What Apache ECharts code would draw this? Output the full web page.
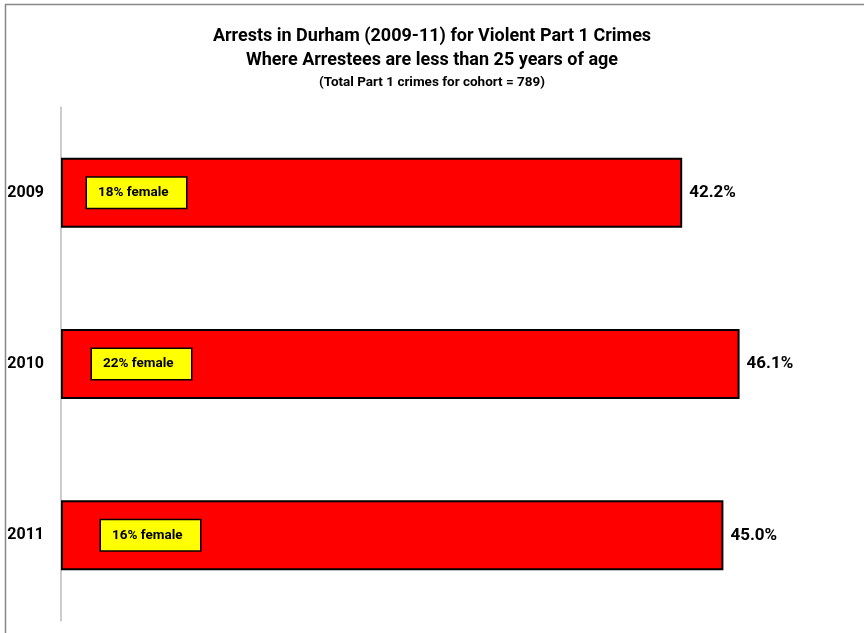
<!DOCTYPE html>
<html>
<head>
<meta charset="utf-8">
<script src="https://cdn.jsdelivr.net/npm/echarts@6/dist/echarts.min.js"></script>
<style>
  html, body { margin: 0; padding: 0; background: #fff; }
  #chart { width: 864px; height: 633px; }
</style>
</head>
<body>
<div id="chart"></div>
<script>
// Arrest share per year (percent) and the female share noted inside each bar
const years = ['2009', '2010', '2011'];
const arrestShare = [42.2, 46.1, 45.0];
const femaleShare = [18, 22, 16];
const femaleLabelInset = [26, 31, 40];

const FONT = 'Roboto, "Open Sans", sans-serif';

const chart = echarts.init(document.getElementById('chart'));

const barData = arrestShare.map(v => ({ value: v }));
const femaleData = arrestShare.map((v, i) => ({
  value: v,
  label: {
    show: true,
    position: 'insideLeft',
    distance: femaleLabelInset[i],
    formatter: femaleShare[i] + '% female'
  }
}));

chart.setOption({
  animation: false,
  backgroundColor: '#fff',
  title: {
    text: 'Arrests in Durham (2009-11) for Violent Part 1 Crimes\nWhere Arrestees are less than 25 years of age',
    subtext: '(Total Part 1 crimes for cohort = 789)',
    left: 'center',
    top: 19,
    itemGap: 4,
    textStyle: { fontFamily: FONT, fontWeight: 'bold', fontSize: 18, lineHeight: 24, color: '#000' },
    subtextStyle: { fontFamily: FONT, fontWeight: 'bold', fontSize: 13.5, color: '#000' }
  },
  graphic: [{
    type: 'rect',
    shape: { x: 5.5, y: 4.5, width: 900, height: 700 },
    style: { fill: null, stroke: '#888', lineWidth: 1.5 },
    silent: true
  }],
  grid: { left: 61, right: 67, top: 107, bottom: 12, containLabel: false },
  xAxis: {
    type: 'value',
    min: 0,
    max: 50,
    show: false
  },
  yAxis: {
    type: 'category',
    data: years,
    inverse: true,
    axisLine: { show: true, lineStyle: { color: '#bbb', width: 1.5 } },
    axisTick: { show: false },
    axisLabel: { fontFamily: FONT, fontWeight: 'bold', fontSize: 16, color: '#000', margin: 17 }
  },
  series: [
    {
      type: 'bar',
      data: barData,
      barWidth: 70,
      itemStyle: { color: '#ff0000', borderColor: '#000', borderWidth: 2 },
      label: {
        show: true,
        position: 'right',
        distance: 7,
        formatter: p => p.value.toFixed(1) + '%',
        fontFamily: FONT, fontWeight: 'bold', fontSize: 17, color: '#000'
      },
      z: 2
    },
    {
      // transparent overlay carrying the female-share callouts
      type: 'bar',
      data: femaleData,
      barWidth: 70,
      barGap: '-100%',
      itemStyle: { color: 'rgba(0,0,0,0)' },
      label: {
        fontFamily: FONT, fontWeight: 'bold', fontSize: 13.5, color: '#000',
        backgroundColor: '#ffff00',
        borderColor: '#000',
        borderWidth: 1.5,
        width: 77,
        height: 16,
        lineHeight: 16,
        padding: [7, 11, 7, 11]
      },
      silent: true,
      z: 3
    }
  ]
});
</script>
</body>
</html>
